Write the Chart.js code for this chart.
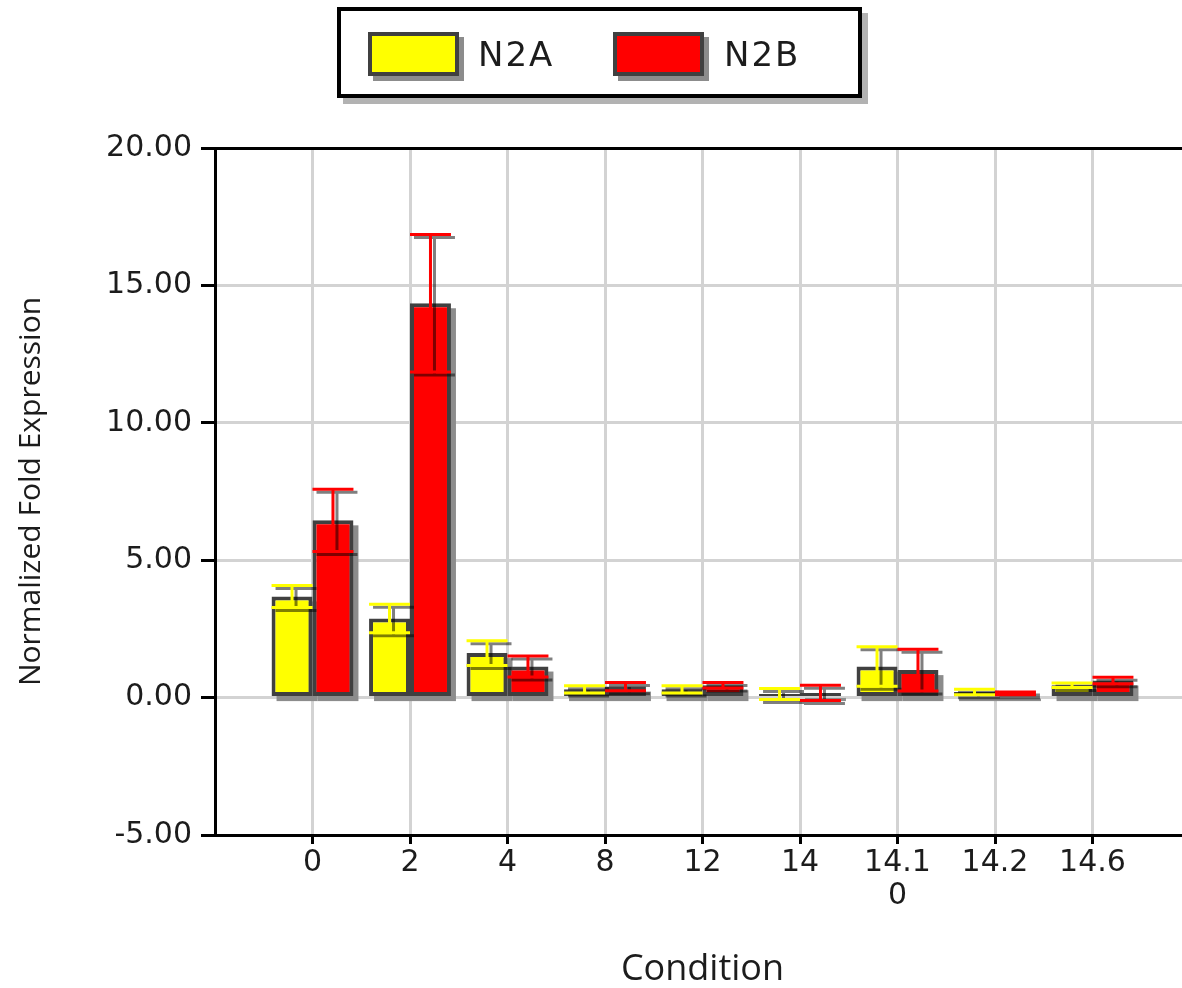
<!DOCTYPE html>
<html>
<head>
<meta charset="utf-8">
<script src="https://cdn.jsdelivr.net/npm/chart.js@4.4.1/dist/chart.umd.min.js"></script>
<style>
  html, body { margin: 0; padding: 0; overflow: hidden; background: #fff; }
  #wrap { position: relative; width: 1182px; height: 988px; overflow: hidden; }
  #chart { position: absolute; left: 0; top: 0; }
  #legend {
    position: absolute; left: 337px; top: 7px; width: 517px; height: 83px;
    border: 4px solid #000; background: #fff;
    box-shadow: 6px 6px 0 rgba(0,0,0,0.3);
  }
  .swatch {
    position: absolute; top: 21px; width: 83px; height: 36px;
    border: 4px solid #404040; box-shadow: 5px 5px 0 rgba(0,0,0,0.45);
  }
  .legend-text {
    position: absolute; top: 21px; height: 44px; line-height: 44px;
    font-family: 'DejaVu Sans', sans-serif; font-size: 34px; letter-spacing: 2px; color: #1c1c1c;
  }
</style>
</head>
<body>
<div id="wrap">
  <canvas id="chart" width="1193" height="988"></canvas>
  <div id="legend"></div>
</div>
<script>
// 데이터
const categories = ['0', '2', '4', '8', '12', '14', ['14.1', '0'], '14.2', '14.6'];
const seriesNames = ['N2A', 'N2B'];
const seriesColors = ['#ffff00', '#ff0000'];
const n2aValues = [3.68, 2.88, 1.62, 0.30, 0.30, 0.13, 1.13, 0.20, 0.45];
const n2aErrors = [0.40, 0.52, 0.45, 0.13, 0.13, 0.20, 0.72, 0.10, 0.08];
const n2bValues = [6.45, 14.35, 1.13, 0.40, 0.45, 0.17, 1.00, 0.15, 0.62];
const n2bErrors = [1.13, 2.50, 0.38, 0.15, 0.10, 0.28, 0.76, 0.05, 0.12];
const yTicks = [-5, 0, 5, 10, 15, 20];

// 앞뒤로 빈 칸을 하나씩 둔다 (원본 축 여백)
const pad = arr => [null, ...arr, null];
const labels = ['', ...categories, ''];

// 막대 그림자
const barShadow = {
  id: 'barShadow',
  beforeDatasetsDraw(chart) {
    const ctx = chart.ctx;
    ctx.save();
    ctx.fillStyle = '#8c8c8c';
    chart.data.datasets.forEach((ds, di) => {
      chart.getDatasetMeta(di).data.forEach((bar, i) => {
        if (ds.data[i] == null) return;
        const { x, y, base, width } = bar.getProps(['x', 'y', 'base', 'width'], true);
        const top = Math.min(y, base);
        ctx.fillRect(x - width / 2 + 5, top + 5, width, Math.abs(base - y));
      });
    });
    ctx.restore();
  }
};

// 오차 막대
const errorBars = {
  id: 'errorBars',
  afterDatasetsDraw(chart) {
    const ctx = chart.ctx;
    const yScale = chart.scales.y;
    chart.data.datasets.forEach((ds, di) => {
      chart.getDatasetMeta(di).data.forEach((bar, i) => {
        const v = ds.data[i];
        if (v == null) return;
        const e = ds.errors[i];
        const { x, width } = bar.getProps(['x', 'width'], true);
        const yTop = yScale.getPixelForValue(v + e);
        const yBot = yScale.getPixelForValue(v - e);
        const half = width / 2;
        ctx.save();
        ctx.strokeStyle = ds.backgroundColor;
        ctx.lineWidth = 3;
        ctx.shadowColor = 'rgba(0,0,0,0.5)';
        ctx.shadowOffsetX = 4;
        ctx.shadowOffsetY = 3;
        ctx.beginPath();
        ctx.moveTo(x, yTop); ctx.lineTo(x, yBot);
        ctx.moveTo(x - half, yTop); ctx.lineTo(x + half, yTop);
        ctx.moveTo(x - half, yBot); ctx.lineTo(x + half, yBot);
        ctx.stroke();
        ctx.restore();
      });
    });
  }
};

const tickFont = { family: "'DejaVu Sans', sans-serif", size: 30, lineHeight: 1.1 };
const titleFont = { family: "'Open Sans', sans-serif", size: 30 };

new Chart(document.getElementById('chart'), {
  type: 'bar',
  data: {
    labels: labels,
    datasets: [
      { label: seriesNames[0], data: pad(n2aValues), errors: pad(n2aErrors),
        backgroundColor: seriesColors[0], borderColor: '#404040', borderWidth: 4, borderSkipped: false },
      { label: seriesNames[1], data: pad(n2bValues), errors: pad(n2bErrors),
        backgroundColor: seriesColors[1], borderColor: '#404040', borderWidth: 4, borderSkipped: false }
    ]
  },
  options: {
    responsive: false,
    animation: false,
    datasets: { bar: { categoryPercentage: 0.84, barPercentage: 1.0 } },
    layout: { padding: { top: 148, left: 0, right: 0, bottom: 0 } },
    plugins: { legend: { display: false }, tooltip: { enabled: false } },
    scales: {
      x: {
        offset: false,
        grid: { offset: false, color: '#d3d3d3', lineWidth: 3, tickLength: 9, tickWidth: 3,
                tickColor: c => c.index === 0 ? 'rgba(0,0,0,0)' : '#000' },
        border: { color: '#000', width: 3 },
        ticks: { color: '#1c1c1c', font: tickFont, padding: 3, maxRotation: 0, autoSkip: false },
        title: { display: true, text: 'Condition', color: '#1c1c1c',
                 font: { family: "'Open Sans', sans-serif", size: 36, lineHeight: 1 }, padding: { bottom: 0 } },
        afterFit: scale => { scale.width; scale.height = 153; }
      },
      y: {
        min: yTicks[0],
        max: yTicks[yTicks.length - 1],
        grid: {
          color: c => (c.tick && c.tick.value === yTicks[yTicks.length - 1]) ? '#000' : '#d3d3d3',
          lineWidth: 3, tickColor: '#000', tickLength: 14, tickWidth: 3
        },
        border: { color: '#000', width: 3 },
        ticks: { stepSize: 5, color: '#1c1c1c', font: tickFont, padding: 9,
                 callback: v => Number(v).toFixed(2) },
        title: { display: true, text: 'Normalized Fold Expression', color: '#1c1c1c',
                 font: titleFont, padding: { top: 13 } },
        afterFit: scale => { scale.width = 215; }
      }
    }
  },
  plugins: [barShadow, errorBars]
});

// 범례 (HTML)
const legend = document.getElementById('legend');
const swatchLeft = [27, 272];
const textLeft = [137, 383];
seriesNames.forEach((name, i) => {
  const sw = document.createElement('div');
  sw.className = 'swatch';
  sw.style.left = swatchLeft[i] + 'px';
  sw.style.background = seriesColors[i];
  legend.appendChild(sw);
  const t = document.createElement('div');
  t.className = 'legend-text';
  t.style.left = textLeft[i] + 'px';
  t.textContent = name;
  legend.appendChild(t);
});
</script>
</body>
</html>
